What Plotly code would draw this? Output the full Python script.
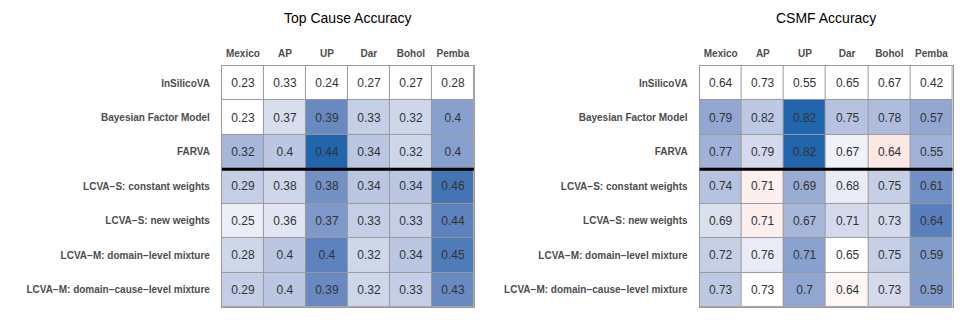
import plotly.graph_objects as go
from plotly.subplots import make_subplots

sites = ["Mexico", "AP", "UP", "Dar", "Bohol", "Pemba"]
methods = [
    "InSilicoVA",
    "Bayesian Factor Model",
    "FARVA",
    "LCVA−S: constant weights",
    "LCVA−S: new weights",
    "LCVA−M: domain−level mixture",
    "LCVA−M: domain−cause−level mixture",
]

top_cause = [
    [0.23, 0.33, 0.24, 0.27, 0.27, 0.28],
    [0.23, 0.37, 0.39, 0.33, 0.32, 0.4],
    [0.32, 0.4, 0.44, 0.34, 0.32, 0.4],
    [0.29, 0.38, 0.38, 0.34, 0.34, 0.46],
    [0.25, 0.36, 0.37, 0.33, 0.33, 0.44],
    [0.28, 0.4, 0.4, 0.32, 0.34, 0.45],
    [0.29, 0.4, 0.39, 0.32, 0.33, 0.43],
]

csmf = [
    [0.64, 0.73, 0.55, 0.65, 0.67, 0.42],
    [0.79, 0.82, 0.82, 0.75, 0.78, 0.57],
    [0.77, 0.79, 0.82, 0.67, 0.64, 0.55],
    [0.74, 0.71, 0.69, 0.68, 0.75, 0.61],
    [0.69, 0.71, 0.67, 0.71, 0.73, 0.64],
    [0.72, 0.76, 0.71, 0.65, 0.75, 0.59],
    [0.73, 0.73, 0.7, 0.64, 0.73, 0.59],
]

panel_titles = ["Top Cause Accuracy", "CSMF Accuracy"]

LOW = (178, 24, 43)
HIGH = (33, 102, 172)
LABEL_GREY = "#4D4D4D"
GRID_GREY = "#9A9A9A"


def srgb_to_lab(rgb):
    def lin(c):
        c = c / 255
        return c / 12.92 if c <= 0.04045 else ((c + 0.055) / 1.055) ** 2.4
    r, g, b = (lin(c) for c in rgb)
    x = (0.4124 * r + 0.3576 * g + 0.1805 * b) / 0.95047
    y = 0.2126 * r + 0.7152 * g + 0.0722 * b
    z = (0.0193 * r + 0.1192 * g + 0.9505 * b) / 1.08883

    def f(t):
        return t ** (1 / 3) if t > 0.008856 else 7.787 * t + 16 / 116
    return (116 * f(y) - 16, 500 * (f(x) - f(y)), 200 * (f(y) - f(z)))


def lab_to_srgb(lab):
    L, a, b = lab
    fy = (L + 16) / 116
    fx = fy + a / 500
    fz = fy - b / 200

    def finv(t):
        return t ** 3 if t ** 3 > 0.008856 else (t - 16 / 116) / 7.787
    x, y, z = finv(fx) * 0.95047, finv(fy), finv(fz) * 1.08883
    r = 3.2406 * x - 1.5372 * y - 0.4986 * z
    g = -0.9689 * x + 1.8758 * y + 0.0415 * z
    bl = 0.0557 * x - 0.2040 * y + 1.0570 * z

    def gam(c):
        c = max(0.0, min(1.0, c))
        c = 12.92 * c if c <= 0.0031308 else 1.055 * c ** (1 / 2.4) - 0.055
        return round(c * 255)
    return "rgb(%d,%d,%d)" % (gam(r), gam(g), gam(bl))


def diverging_scale(n=10):
    """Lab interpolation low -> white -> high, like ggplot's gradient2"""
    white = srgb_to_lab((255, 255, 255))
    lo, hi = srgb_to_lab(LOW), srgb_to_lab(HIGH)
    scale = []
    for i in range(n + 1):
        t = i / n
        c = tuple(lo[k] + (white[k] - lo[k]) * t for k in range(3))
        scale.append([t / 2, lab_to_srgb(c)])
    for i in range(1, n + 1):
        t = i / n
        c = tuple(white[k] + (hi[k] - white[k]) * t for k in range(3))
        scale.append([0.5 + t / 2, lab_to_srgb(c)])
    return scale


colorscale = diverging_scale()

fig = make_subplots(rows=1, cols=2, horizontal_spacing=0.05)

for i, values in enumerate([top_cause, csmf], start=1):
    base = values[0]
    diffs = [[v - b for v, b in zip(row, base)] for row in values]
    zlim = max(abs(d) for row in diffs for d in row)
    fig.add_trace(go.Heatmap(
        z=diffs,
        x=sites,
        y=methods,
        text=[[str(v) for v in row] for row in values],
        texttemplate="%{text}",
        textfont=dict(size=12, color="#333333"),
        colorscale=colorscale,
        zmin=-zlim,
        zmax=zlim,
        zmid=0,
        showscale=False,
        xgap=1,
        ygap=1,
        hoverinfo="skip",
    ), row=1, col=i)
    # thick separator between the reference methods and the LCVA variants
    fig.add_shape(type="line", xref="x%s domain" % ("" if i == 1 else i),
                  yref="y%s" % ("" if i == 1 else i),
                  x0=0, x1=1, y0=2.5, y1=2.5,
                  line=dict(color="black", width=3))

domains = [[0.229, 0.489], [0.722, 0.983]]
for i, dom in enumerate(domains, start=1):
    fig.update_xaxes(domain=dom, side="top", showgrid=False, zeroline=False,
                     showline=True, mirror=True, linecolor=GRID_GREY, linewidth=1,
                     ticks="", ticklabelstandoff=4,
                     tickfont=dict(size=10, color=LABEL_GREY,
                                   family="Liberation Sans", weight="bold"),
                     row=1, col=i)
    fig.update_yaxes(domain=[0.05, 0.796], autorange="reversed", showgrid=False,
                     zeroline=False, showline=True, mirror=True,
                     linecolor=GRID_GREY, linewidth=1, ticks="",
                     ticklabelstandoff=9,
                     tickfont=dict(size=10, color=LABEL_GREY,
                                   family="Liberation Sans", weight="bold"),
                     row=1, col=i)
    fig.add_annotation(text=panel_titles[i - 1], xref="paper", yref="paper",
                       x=sum(dom) / 2, y=1 - 18 / 323, xanchor="center",
                       yanchor="middle", showarrow=False,
                       font=dict(size=14, color="black", family="Liberation Sans"))

fig.update_layout(
    width=969,
    height=323,
    margin=dict(l=0, r=0, t=0, b=0),
    paper_bgcolor="white",
    plot_bgcolor=GRID_GREY,
    font=dict(family="Liberation Sans"),
)

# drop the browser's default 8px body margin so the figure fills the window
fig.write_html("out.html", config={"displayModeBar": False}, post_script=(
    "document.body.style.margin='0';"
    "document.documentElement.style.overflow='hidden';"
))
